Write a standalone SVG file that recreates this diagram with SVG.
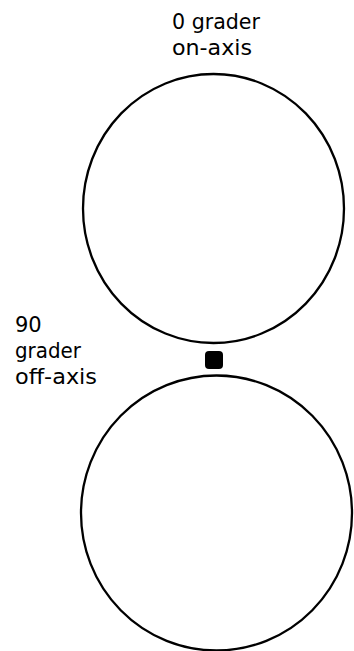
<svg xmlns="http://www.w3.org/2000/svg" width="354" height="651" viewBox="0 0 354 651">
<style>
.c{fill:none;stroke:#000;stroke-width:2.3}
.t{font-family:"DejaVu Sans","Liberation Sans",sans-serif;font-size:21px;fill:#000}
</style>
<rect width="354" height="651" fill="#fff"/>
<g id="top-circle"><ellipse class="c" cx="213.5" cy="208.5" rx="130.5" ry="134.5"/></g>
<g id="bottom-circle"><ellipse class="c" cx="216.5" cy="513" rx="135.5" ry="137.5"/></g>
<g id="source"><rect x="205" y="351" width="18" height="18" rx="4" fill="#000"/></g>
<g id="label-top">
<text class="t" x="172" y="29" textLength="88" lengthAdjust="spacingAndGlyphs">0 grader</text>
<text class="t" x="172" y="55" textLength="80" lengthAdjust="spacingAndGlyphs">on-axis</text>
</g>
<g id="label-left">
<text class="t" x="15" y="332">90</text>
<text class="t" x="15" y="358" textLength="66" lengthAdjust="spacingAndGlyphs">grader</text>
<text class="t" x="15" y="384" textLength="82" lengthAdjust="spacingAndGlyphs">off-axis</text>
</g>
</svg>
